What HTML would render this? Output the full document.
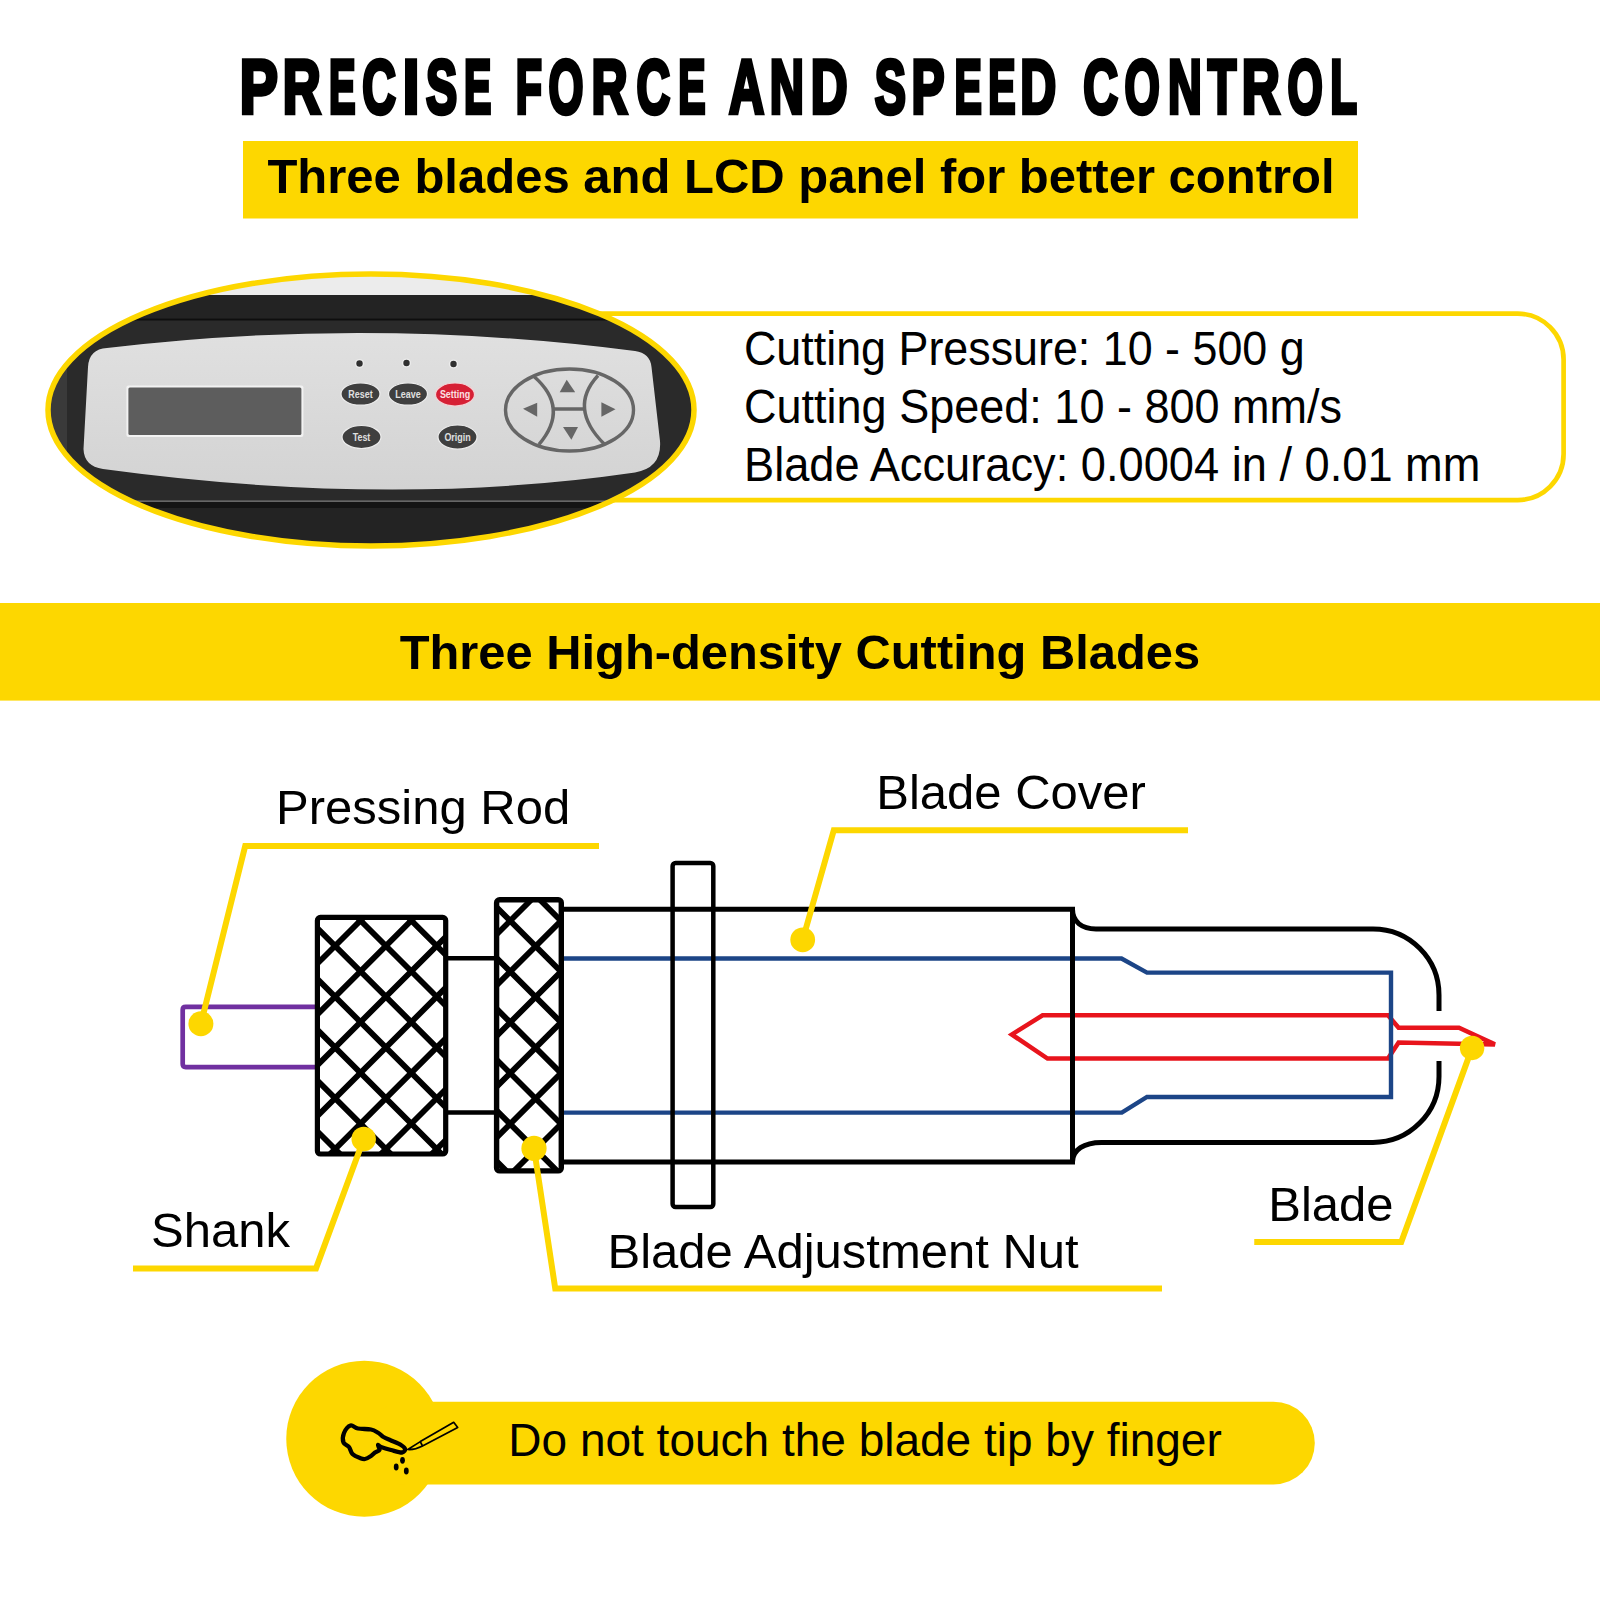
<!DOCTYPE html>
<html>
<head>
<meta charset="utf-8">
<style>
html,body{margin:0;padding:0;background:#fff;width:1600px;height:1600px;overflow:hidden}
svg{display:block}
text{font-family:"Liberation Sans",sans-serif}
</style>
</head>
<body>
<svg width="1600" height="1600" viewBox="0 0 1600 1600">
<defs>
  <linearGradient id="pgrad" x1="0" y1="0" x2="0" y2="1"><stop offset="0" stop-color="#e0e0e0"/><stop offset="1" stop-color="#d3d3d3"/></linearGradient>
  <clipPath id="ellclip"><ellipse cx="371" cy="410" rx="323" ry="136"/></clipPath>
  <clipPath id="shankclip"><rect x="319" y="919" width="125" height="233"/></clipPath>
  <clipPath id="nutclip"><rect x="498" y="901" width="62" height="268"/></clipPath>
</defs>

<!-- ===== Header ===== -->
<g id="title" font-size="76.74" font-weight="bold" fill="#000" stroke="#000" stroke-width="4.50">
<text transform="translate(239.68,113.35) scale(0.745,1)">P</text>
<text transform="translate(282.73,113.35) scale(0.686,1)">R</text>
<text transform="translate(328.99,113.35) scale(0.519,1)">E</text>
<text transform="translate(362.24,113.35) scale(0.608,1)">C</text>
<text transform="translate(402.66,113.35) scale(0.778,1)">I</text>
<text transform="translate(425.90,113.35) scale(0.609,1)">S</text>
<text transform="translate(464.01,113.35) scale(0.534,1)">E</text>
<text transform="translate(515.63,113.35) scale(0.559,1)">F</text>
<text transform="translate(548.41,113.35) scale(0.586,1)">O</text>
<text transform="translate(591.40,113.35) scale(0.652,1)">R</text>
<text transform="translate(636.59,113.35) scale(0.608,1)">C</text>
<text transform="translate(678.26,113.35) scale(0.534,1)">E</text>
<text transform="translate(728.94,113.35) scale(0.633,1)">A</text>
<text transform="translate(769.83,113.35) scale(0.617,1)">N</text>
<text transform="translate(810.74,113.35) scale(0.665,1)">D</text>
<text transform="translate(874.65,113.35) scale(0.609,1)">S</text>
<text transform="translate(911.44,113.35) scale(0.645,1)">P</text>
<text transform="translate(954.51,113.35) scale(0.534,1)">E</text>
<text transform="translate(988.26,113.35) scale(0.534,1)">E</text>
<text transform="translate(1020.17,113.35) scale(0.648,1)">D</text>
<text transform="translate(1083.27,113.35) scale(0.628,1)">C</text>
<text transform="translate(1124.39,113.35) scale(0.591,1)">O</text>
<text transform="translate(1168.12,113.35) scale(0.610,1)">N</text>
<text transform="translate(1207.73,113.35) scale(0.609,1)">T</text>
<text transform="translate(1241.72,113.35) scale(0.688,1)">R</text>
<text transform="translate(1287.39,113.35) scale(0.591,1)">O</text>
<text transform="translate(1330.32,113.35) scale(0.571,1)">L</text>
</g>
<rect x="243" y="141" width="1115" height="77.5" fill="#FDD700"/>
<text font-size="49" font-weight="bold" fill="#000" x="267.4" y="193">Three blades and LCD panel for better control</text>

<!-- ===== Spec box ===== -->
<path d="M560,313.6 L1517.6,313.6 A46,46 0 0 1 1563.6,359.6 L1563.6,454.1 A46,46 0 0 1 1517.6,500.1 L560,500.1" fill="none" stroke="#FDD700" stroke-width="4.7"/>
<text font-size="49" fill="#000" transform="translate(744,365) scale(0.915,1)">Cutting Pressure: 10 - 500 g</text>
<text font-size="49" fill="#000" transform="translate(744,423.1) scale(0.919,1)">Cutting Speed: 10 - 800 mm/s</text>
<text font-size="49" fill="#000" transform="translate(744,480.6) scale(0.923,1)">Blade Accuracy: 0.0004 in / 0.01 mm</text>

<!-- ===== Photo ellipse ===== -->
<ellipse cx="371" cy="410" rx="323" ry="136" fill="#ececec"/>
<g clip-path="url(#ellclip)">
  <rect x="0" y="295" width="700" height="300" fill="#2a2a2a"/>
  <rect x="40" y="295" width="660" height="23.5" fill="#232323"/>
  <rect x="40" y="318.5" width="660" height="2" fill="#0e0e0e"/>
  <rect x="40" y="500" width="660" height="100" fill="#232323"/>
  <rect x="40" y="502" width="660" height="6" fill="#141414"/>
  <rect x="40" y="500.3" width="660" height="1.7" fill="#666"/>
  <rect x="48" y="340" width="19" height="140" fill="#3a3a3a"/>
  <path d="M107,348 Q369,316.5 635,351 Q650,353 651.5,367 L660,441 Q662,468 635,472.5 Q391,508.25 103,469 Q84,466 83.5,449 L88,367 Q89,349 107,348 Z" fill="url(#pgrad)"/>
  <!-- LCD -->
  <rect x="126.4" y="385.4" width="177" height="51.5" rx="2" fill="#f2f2f2"/>
  <rect x="128.4" y="387.4" width="173" height="47.5" rx="1.5" fill="#5d5d5d"/>
  <!-- LEDs -->
  <circle cx="359.5" cy="363.5" r="4.6" fill="#ececec"/>
  <circle cx="406.5" cy="363" r="4.6" fill="#ececec"/>
  <circle cx="453.5" cy="364" r="4.6" fill="#ececec"/>
  <circle cx="359.5" cy="363.5" r="3.2" fill="#303030"/>
  <circle cx="406.5" cy="363" r="3.2" fill="#303030"/>
  <circle cx="453.5" cy="364" r="3.2" fill="#303030"/>
  <!-- buttons -->
  <ellipse cx="360.5" cy="394" rx="19.5" ry="11.2" fill="#3f3f3f" stroke="#ececec" stroke-width="1.2"/>
  <ellipse cx="408" cy="394" rx="19.5" ry="11.2" fill="#3f3f3f" stroke="#ececec" stroke-width="1.2"/>
  <ellipse cx="455" cy="394.5" rx="19.5" ry="11.5" fill="#d62035" stroke="#f3d2d5" stroke-width="1.2"/>
  <ellipse cx="361.5" cy="437" rx="19.5" ry="11.5" fill="#3f3f3f" stroke="#ececec" stroke-width="1.2"/>
  <ellipse cx="457.5" cy="437" rx="19.5" ry="12" fill="#3f3f3f" stroke="#ececec" stroke-width="1.2"/>
  <g font-size="10.5" font-weight="bold" fill="#e0e0e0" text-anchor="middle">
    <text transform="translate(360.5,398) scale(0.85,1)">Reset</text>
    <text transform="translate(408,398) scale(0.85,1)">Leave</text>
    <text transform="translate(455,398) scale(0.85,1)" fill="#fbe1e4">Setting</text>
    <text transform="translate(361.5,441) scale(0.85,1)">Test</text>
    <text transform="translate(457.5,441) scale(0.85,1)">Origin</text>
  </g>
  <!-- D-pad -->
  <g fill="none" stroke="#666" stroke-width="3.4">
    <ellipse cx="569.5" cy="410" rx="64" ry="41"/>
    <path d="M534,376.5 Q570,408 539,444.4"/>
    <path d="M598,375.5 Q568,408 604.2,444"/>
    <path d="M553.6,409 L584,409"/>
  </g>
  <g fill="#666">
    <path d="M566.7,379.7 L575.2,392.3 L559.7,392.3 Z"/>
    <path d="M563,427 L578,427 L571.4,439.7 Z"/>
    <path d="M523,408.75 L537.2,402.7 L537.2,416.7 Z"/>
    <path d="M615.5,409.2 L601.4,402.2 L601.4,416.7 Z"/>
  </g>
</g>
<ellipse cx="371" cy="410" rx="323" ry="136" fill="none" stroke="#FDD700" stroke-width="5.5"/>

<!-- ===== Band ===== -->
<rect x="0" y="603" width="1600" height="97.6" fill="#FDD700"/>
<text font-size="49" font-weight="bold" fill="#000" transform="translate(399.7,669) scale(0.997,1)">Three High-density Cutting Blades</text>

<!-- ===== Diagram ===== -->
<g fill="none" stroke-linejoin="miter">
  <!-- pressing rod -->
  <path d="M318,1006.8 L185.7,1006.8 Q182.7,1006.8 182.7,1009.8 L182.7,1064.1 Q182.7,1067.1 185.7,1067.1 L318,1067.1" stroke="#7030A0" stroke-width="4.7"/>
  <!-- connectors -->
  <path d="M445,958.3 L497,958.3 M445,1112.6 L497,1112.6" stroke="#000" stroke-width="4.5"/>
  <!-- shank hatch -->
  <g clip-path="url(#shankclip)" stroke="#000" stroke-width="5.8">
    <path d="M255,815.0 L505,1065.0 M255,865.8 L505,1115.8 M255,916.6 L505,1166.6 M255,967.4 L505,1217.4 M255,1018.2 L505,1268.2 M255,1069.0 L505,1319.0 M255,764.2 L505,1014.2 M255,713.4 L505,963.4 M255,662.6 L505,912.6"/>
    <path d="M255,1026.0 L505,776.0 M255,1076.8 L505,826.8 M255,1127.6 L505,877.6 M255,1178.4 L505,928.4 M255,1229.2 L505,979.2 M255,1280.0 L505,1030.0 M255,1330.8 L505,1080.8 M255,1381.6 L505,1131.6 M255,1432.4 L505,1182.4"/>
  </g>
  <rect x="317.4" y="917.4" width="128.3" height="236.6" rx="3" stroke="#000" stroke-width="5.2"/>
  <!-- nut hatch -->
  <g clip-path="url(#nutclip)" stroke="#000" stroke-width="5.8">
    <path d="M450,809.8 L600,959.8 M450,860.6 L600,1010.6 M450,911.4 L600,1061.4 M450,962.2 L600,1112.2 M450,1013.0 L600,1163.0 M450,1063.8 L600,1213.8 M450,1114.6 L600,1264.6 M450,759.0 L600,909.0"/>
    <path d="M450,981.0 L600,831.0 M450,1031.8 L600,881.8 M450,1082.6 L600,932.6 M450,1133.4 L600,983.4 M450,1184.2 L600,1034.2 M450,1235.0 L600,1085.0 M450,1285.8 L600,1135.8 M450,1336.6 L600,1186.6 M450,1387.4 L600,1237.4"/>
  </g>
  <rect x="496.6" y="899.7" width="64.7" height="271.2" rx="3" stroke="#000" stroke-width="5.4"/>
  <!-- red -->
  <path d="M1042.6,1015.3 L1388,1015.3 L1398.6,1027.75 L1459,1027.75 L1494.9,1044.4 L1398.6,1042.6 L1388,1058.5 L1047.5,1058.5 L1011.8,1034.5 Z" stroke="#E8141C" stroke-width="4.5"/>
  <!-- blue -->
  <path d="M564,958.5 L1121.5,958.5 L1147,972.6 L1391,972.6 L1391,1097 L1147,1097 L1121.8,1112.6 L564,1112.6" stroke="#1C4587" stroke-width="4.4"/>
  <!-- body -->
  <path d="M561,909.3 L1072.5,909.3 L1072.5,1162 L561,1162" stroke="#000" stroke-width="5"/>
  <rect x="672.6" y="863" width="40.7" height="344" rx="3" stroke="#000" stroke-width="4.5"/>
  <path d="M1072.5,909.3 C1072.5,922 1082,928.9 1096,928.9 L1373,928.9 A66,66 0 0 1 1439,994.9 L1439,1011" stroke="#000" stroke-width="5"/>
  <path d="M1072.5,1162 C1072.5,1150 1084,1142.4 1101.5,1142.4 L1373,1142.4 A66,66 0 0 0 1439,1076.4 L1439,1061" stroke="#000" stroke-width="5"/>
</g>

<!-- leaders -->
<g fill="none" stroke="#FDD700" stroke-width="6" stroke-linejoin="miter">
  <path d="M599,846 L245.2,846 L200.9,1023.75"/>
  <path d="M1188,830.3 L833.8,830.3 L802.7,939.8"/>
  <path d="M133,1268.4 L316,1268.4 L363.7,1139"/>
  <path d="M1162,1288.6 L555.25,1288.6 L534,1148.4"/>
  <path d="M1254.25,1242 L1401.25,1242 L1472.1,1047.9"/>
</g>
<g fill="#FDD700">
  <circle cx="200.9" cy="1023.75" r="12.5"/>
  <circle cx="802.7" cy="939.8" r="12.4"/>
  <circle cx="363.7" cy="1139" r="12.25"/>
  <circle cx="534" cy="1148.4" r="12.6"/>
  <circle cx="1472.1" cy="1047.9" r="12.25"/>
</g>

<!-- labels -->
<g font-size="49" fill="#000">
  <text x="276.1" y="824.1">Pressing Rod</text>
  <text x="876.3" y="809.3">Blade Cover</text>
  <text x="607.5" y="1267.5">Blade Adjustment Nut</text>
  <text x="151" y="1246.75">Shank</text>
  <text x="1268.25" y="1220.75">Blade</text>
</g>

<!-- ===== Warning pill ===== -->
<circle cx="364.25" cy="1438.8" r="78" fill="#FDD700"/>
<rect x="364" y="1401.7" width="950.8" height="82.8" rx="41.4" fill="#FDD700"/>
<text font-size="46" fill="#000" x="508.3" y="1456">Do not touch the blade tip by finger</text>
<g fill="none" stroke="#000" stroke-width="4.3" stroke-linejoin="round" stroke-linecap="round">
  <path d="M350.5,1425.5 C352.8,1424.8 354.6,1427.8 358.0,1428.5 C361.4,1429.2 367.6,1428.8 371.0,1429.5 C374.4,1430.2 376.4,1431.8 378.5,1433.0 C380.6,1434.2 381.4,1435.8 383.5,1437.0 C385.6,1438.2 388.1,1439.2 391.0,1440.5 C393.9,1441.8 398.7,1443.6 401.0,1445.0 C403.3,1446.4 404.8,1447.8 405.0,1449.0 C405.2,1450.2 404.3,1452.3 402.0,1452.5 C399.7,1452.7 394.5,1450.9 391.0,1450.0 C387.5,1449.1 383.2,1447.8 381.0,1447.0 C378.8,1446.2 378.2,1444.5 378.0,1445.0 C377.8,1445.5 380.0,1448.8 379.5,1450.0 C379.0,1451.2 376.4,1451.5 375.0,1452.5 C373.6,1453.5 372.7,1454.9 371.0,1456.0 C369.3,1457.1 366.8,1458.7 365.0,1459.0 C363.2,1459.3 362.1,1458.8 360.0,1458.0 C357.9,1457.2 354.3,1455.8 352.5,1454.0 C350.7,1452.2 350.5,1448.9 349.0,1447.0 C347.5,1445.1 344.3,1444.8 343.5,1442.5 C342.7,1440.2 342.8,1435.8 344.0,1433.0 C345.2,1430.2 348.2,1426.2 350.5,1425.5 Z"/>
</g>
<g fill="none" stroke="#000" stroke-width="1.7" stroke-linejoin="round">
  <path d="M407.8,1449.5 L420.3,1441.6 L453.7,1422.3 L457.7,1427.4 L422.5,1446 Q415,1450 407.8,1449.5 Z"/>
  <path d="M420.3,1441.6 L422.5,1446"/>
</g>
<g fill="#000">
  <ellipse cx="402.5" cy="1460.3" rx="2.4" ry="3.4"/>
  <ellipse cx="396.2" cy="1467" rx="2.4" ry="3.4"/>
  <ellipse cx="406.3" cy="1471" rx="2.4" ry="3.4"/>
</g>
</svg>
</body>
</html>
